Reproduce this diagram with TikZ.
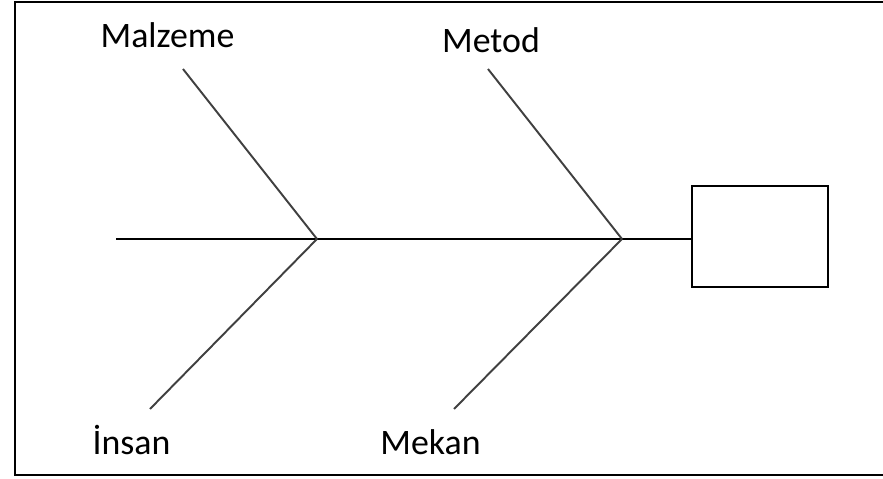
\documentclass[tikz,border=0pt]{standalone}
\usepackage{fontspec}
\setmainfont{Carlito}
\begin{document}
\begin{tikzpicture}[x=0.02cm, y=-0.02cm,
        bone/.style={draw=black!75, line width=1.1pt},
        spine/.style={draw=black, line width=1.1pt},
        cause/.style={anchor=base, inner sep=0pt, font=\fontsize{20.4}{24}\selectfont}]
        \clip (0,0) rectangle (883,479);
        \draw[line width=1.3pt] (900,2) -- (15,2) -- (15,475) -- (900,475);
        % effect box and spine
        \node[draw, line width=1.4pt, minimum width=136*0.02cm, minimum height=101*0.02cm, inner sep=0pt] (effect) at (760,236.5) {};
        \coordinate (tail) at (116,239);
        \coordinate (J1) at (317,239);
        \coordinate (J2) at (622,239);
        \draw[spine] (tail) -- (J1) -- (J2) -- (J2 -| effect.west);
        % causes
        \node[cause] (malzeme) at (167.5,48) {Malzeme};
        \node[cause] (metod) at (491,53) {Metod};
        \node[cause] (insan) at (131.5,455) {İnsan};
        \node[cause] (mekan) at (430.5,455) {Mekan};
        \coordinate (malzemeEnd) at (183,69);
        \coordinate (metodEnd) at (488,69);
        \coordinate (insanEnd) at (150,409);
        \coordinate (mekanEnd) at (454,409);
        \draw[bone] (malzemeEnd) -- (J1);
        \draw[bone] (insanEnd) -- (J1);
        \draw[bone] (metodEnd) -- (J2);
        \draw[bone] (mekanEnd) -- (J2);
    \end{tikzpicture}
\end{document}
